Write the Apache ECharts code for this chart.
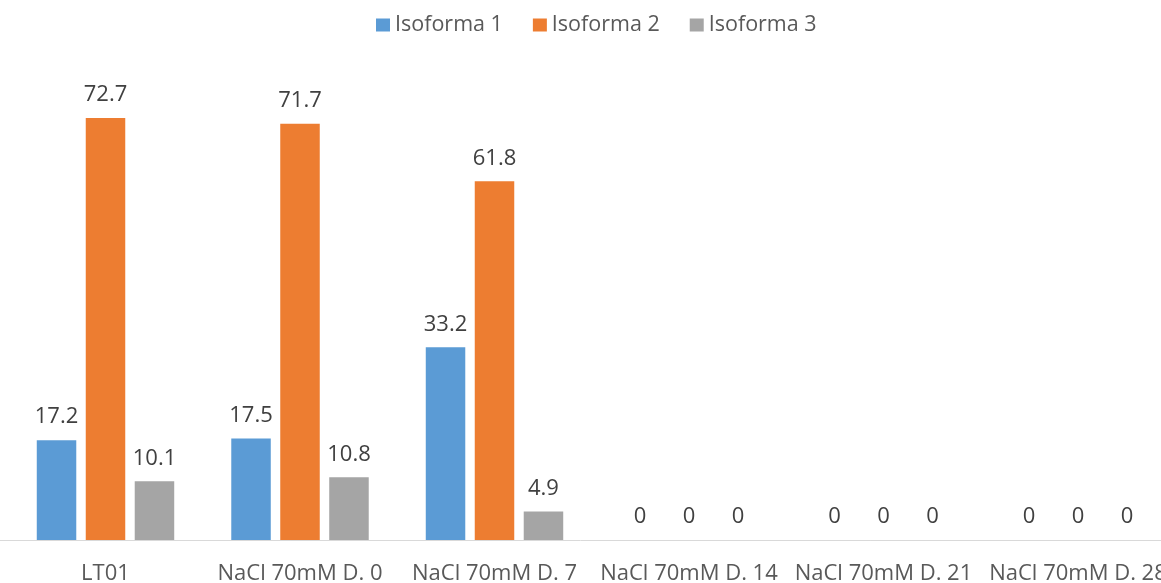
<!DOCTYPE html>
<html>
<head>
<meta charset="utf-8">
<style>
  html, body { margin: 0; padding: 0; background: #ffffff; }
  #chart { width: 1161px; height: 583px; }
</style>
<script src="https://cdn.jsdelivr.net/npm/echarts@6/dist/echarts.min.js"></script>
</head>
<body>
<div id="chart"></div>
<script>
// Samples on the category axis
const categories = ['LT01', 'NaCl 70mM D. 0', 'NaCl 70mM D. 7', 'NaCl 70mM D. 14', 'NaCl 70mM D. 21', 'NaCl 70mM D. 28'];

// Share of each isoform (%)
const isoforma1 = [17.2, 17.5, 33.2, 0, 0, 0];
const isoforma2 = [72.7, 71.7, 61.8, 0, 0, 0];
const isoforma3 = [10.1, 10.8, 4.9, 0, 0, 0];

const seriesNames = ['Isoforma 1', 'Isoforma 2', 'Isoforma 3'];
const seriesColors = ['#5B9BD5', '#ED7D31', '#A5A5A5'];
const seriesValues = [isoforma1, isoforma2, isoforma3];

const FONT = '"Open Sans", "Noto Sans", sans-serif';

const chart = echarts.init(document.getElementById('chart'), null, { renderer: 'canvas' });

const bars = seriesValues.map((vals, i) => ({
  name: seriesNames[i],
  type: 'bar',
  xAxisIndex: 0,
  yAxisIndex: 0,
  data: vals,
  barWidth: 39.5,
  barGap: '24%',
  itemStyle: { color: seriesColors[i] },
  label: {
    show: true,
    position: 'top',
    distance: 12,
    color: '#404040',
    fontFamily: FONT,
    fontSize: 22
  }
}));

chart.setOption({
  animation: false,
  backgroundColor: '#ffffff',
  legend: {
    data: seriesNames,
    top: 9,
    left: 371,
    itemWidth: 14,
    itemHeight: 13,
    itemGap: 30,
    icon: 'rect',
    textStyle: { color: '#595959', fontFamily: FONT, fontSize: 21.5 }
  },
  grid: [
    // plot runs past the right edge of the canvas, so the last label is clipped
    { left: 8.25, width: 1167, top: 75.6, bottom: 43, containLabel: false, outerBoundsMode: 'none' },
    // full-width baseline under the plot
    { left: 0, right: 0, top: 75.6, bottom: 43, containLabel: false, outerBoundsMode: 'none' }
  ],
  xAxis: [
    {
      type: 'category',
      gridIndex: 0,
      data: categories,
      axisLine: { show: false },
      axisTick: { show: false },
      axisLabel: {
        color: '#595959',
        fontFamily: FONT,
        fontSize: 22,
        margin: 23,
        interval: 0
      }
    },
    {
      type: 'category',
      gridIndex: 1,
      data: [''],
      axisLine: { show: true, lineStyle: { color: '#D9D9D9', width: 1 } },
      axisTick: { show: false },
      axisLabel: { show: false }
    }
  ],
  yAxis: [
    {
      type: 'value',
      gridIndex: 0,
      min: 0,
      max: 80,
      show: false
    },
    {
      type: 'value',
      gridIndex: 1,
      min: 0,
      max: 80,
      show: false
    }
  ],
  series: bars
});
</script>
</body>
</html>
